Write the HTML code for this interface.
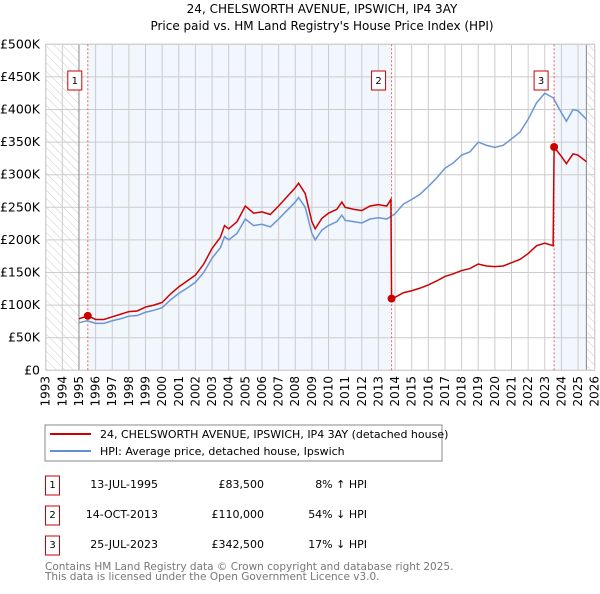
<!DOCTYPE html>
<html><head><meta charset="utf-8"><style>
body{margin:0;background:#fff;width:600px;height:590px;overflow:hidden;font-family:"DejaVu Sans","Liberation Sans",sans-serif}
svg text{font-family:"DejaVu Sans","Liberation Sans",sans-serif}
</style></head><body>
<svg id="c" width="600" height="590" xmlns="http://www.w3.org/2000/svg">
<defs><pattern id="hatch" width="6" height="6" patternUnits="userSpaceOnUse" patternTransform="rotate(-45)"><line x1="0" y1="0" x2="0" y2="6" stroke="#ccc" stroke-width="1"/></pattern></defs>
<text x="322" y="13" font-size="12" text-anchor="middle">24, CHELSWORTH AVENUE, IPSWICH, IP4 3AY</text>
<text x="322" y="30" font-size="12" text-anchor="middle">Price paid vs. HM Land Registry's House Price Index (HPI)</text>
<g id="plot"></g>
<rect x="45" y="425" width="397" height="36" fill="#fff" stroke="#888"/>
<line x1="50" y1="434" x2="91" y2="434" stroke="#cc0000" stroke-width="2"/>
<text x="100" y="438" font-size="11">24, CHELSWORTH AVENUE, IPSWICH, IP4 3AY (detached house)</text>
<line x1="50" y1="451" x2="91" y2="451" stroke="#6090d0" stroke-width="2"/>
<text x="100" y="455" font-size="11">HPI: Average price, detached house, Ipswich</text>
<g font-size="11">
<rect x="45.5" y="476" width="14" height="19" fill="none" stroke="#cc0000"/><text x="52.5" y="488" text-anchor="middle" font-size="10">1</text>
<text x="158" y="488" text-anchor="end">13-JUL-1995</text>
<text x="264" y="488" text-anchor="end">£83,500</text>
<text x="367" y="488" text-anchor="end">8% ↑ HPI</text>
<rect x="45.5" y="506" width="14" height="19" fill="none" stroke="#cc0000"/><text x="52.5" y="518" text-anchor="middle" font-size="10">2</text>
<text x="158" y="518" text-anchor="end">14-OCT-2013</text>
<text x="264" y="518" text-anchor="end">£110,000</text>
<text x="367" y="518" text-anchor="end">54% ↓ HPI</text>
<rect x="45.5" y="536" width="14" height="19" fill="none" stroke="#cc0000"/><text x="52.5" y="548" text-anchor="middle" font-size="10">3</text>
<text x="158" y="548" text-anchor="end">25-JUL-2023</text>
<text x="264" y="548" text-anchor="end">£342,500</text>
<text x="367" y="548" text-anchor="end">17% ↓ HPI</text>
</g>
<text x="45" y="570" font-size="10.5" fill="#777">Contains HM Land Registry data © Crown copyright and database right 2025.</text>
<text x="45" y="580" font-size="10.5" fill="#777">This data is licensed under the Open Government Licence v3.0.</text>
</svg>
<script>
const yTicks=[0,50,100,150,200,250,300,350,400,450,500];
const yTickLabels=["£0","£50K","£100K","£150K","£200K","£250K","£300K","£350K","£400K","£450K","£500K"];
const years=[1993,1994,1995,1996,1997,1998,1999,2000,2001,2002,2003,2004,2005,2006,2007,2008,2009,2010,2011,2012,2013,2014,2015,2016,2017,2018,2019,2020,2021,2022,2023,2024,2025,2026];
const hpiDates=[1995.0,1995.5,1996,1996.5,1997,1997.5,1998,1998.5,1999,1999.5,2000,2000.5,2001,2001.5,2002,2002.5,2003,2003.5,2003.75,2004,2004.5,2005,2005.5,2006,2006.5,2007,2007.5,2008,2008.2,2008.6,2009,2009.2,2009.6,2010,2010.5,2010.8,2011,2011.5,2012,2012.5,2013,2013.5,2014,2014.5,2015,2015.5,2016,2016.5,2017,2017.5,2018,2018.5,2019,2019.5,2020,2020.5,2021,2021.5,2022,2022.5,2023,2023.5,2024,2024.3,2024.7,2025,2025.5];
const hpiValues=[73,76,72,72,76,79,83,84,89,92,96,108,118,126,135,150,172,188,205,200,210,232,222,224,220,232,245,258,265,250,210,200,215,222,228,238,230,228,226,232,234,232,240,255,262,270,282,295,310,318,330,335,350,345,342,345,355,365,385,410,425,418,395,382,400,398,385];
const propDates=[1995.0,1995.53,1996,1996.5,1997,1997.5,1998,1998.5,1999,1999.5,2000,2000.5,2001,2001.5,2002,2002.5,2003,2003.5,2003.75,2004,2004.5,2005,2005.5,2006,2006.5,2007,2007.5,2008,2008.2,2008.6,2009,2009.2,2009.6,2010,2010.5,2010.8,2011,2011.5,2012,2012.5,2013,2013.5,2013.75,2013.79,2014,2014.5,2015,2015.5,2016,2016.5,2017,2017.5,2018,2018.5,2019,2019.5,2020,2020.5,2021,2021.5,2022,2022.5,2023,2023.5,2023.56,2024,2024.3,2024.7,2025,2025.5];
const propValues=[79,83.5,78,78,82,86,90,91,97,100,104,117,128,137,146,163,187,204,222,217,228,252,241,243,239,252,266,280,287,271,228,217,233,241,247,258,250,247,245,252,254,252,262,110,112,119,122,126,131,137,144,148,153,156,163,160,159,160,165,170,179,191,195,191,342.5,328,317,332,330,320];
const saleDates=[1995.53,2013.79,2023.56];
const salePrices=[83.5,110,342.5];
const saleLabels=["1","2","3"];

const X0=45.7,X1=594.7,Y0=370.3,Y1=44.3;
const xs=t=>X0+(t-1993)/(2026-1993)*(X1-X0);
const ys=v=>Y0-v/500*(Y0-Y1);
const NS="http://www.w3.org/2000/svg";
const g=document.getElementById('plot');
function mk(tag,attrs){const e=document.createElementNS(NS,tag);for(const k in attrs)e.setAttribute(k,attrs[k]);g.appendChild(e);return e;}
let e;
e=mk('rect',{x:X0,y:Y1,width:X1-X0,height:Y0-Y1,fill:'#fff'});


e=mk('rect',{x:xs(saleDates[0]),y:Y1,width:xs(saleDates[1])-xs(saleDates[0]),height:Y0-Y1,fill:'#f2f6fd'});


e=mk('rect',{x:xs(saleDates[2]),y:Y1,width:xs(2025.5)-xs(saleDates[2]),height:Y0-Y1,fill:'#f2f6fd'});


e=mk('rect',{x:X0,y:Y1,width:xs(1995)-X0,height:Y0-Y1,fill:'url(#hatch)'});


e=mk('rect',{x:xs(2025.5),y:Y1,width:X1-xs(2025.5),height:Y0-Y1,fill:'url(#hatch)'});


yTicks.forEach((v,i)=>{
 e=mk('line',{x1:X0,x2:X1,y1:ys(v),y2:ys(v),stroke:'#ccc','stroke-width':1});
 
 
 e=mk('text',{x:40,y:ys(v)+4,'font-size':12.5,'text-anchor':'end'});e.textContent=yTickLabels[i];
 
 
});
years.forEach(y=>{
 e=mk('line',{x1:xs(y),x2:xs(y),y1:Y1,y2:Y0,stroke:'#ccc','stroke-width':1});
 
 
 e=mk('text',{x:0,y:0,'font-size':12,'text-anchor':'end',transform:`translate(${xs(y)+4},376) rotate(-90)`});e.textContent=y;
 
 
});
[1995,2025.5].forEach(t=>{
 e=mk('line',{x1:xs(t),x2:xs(t),y1:Y1,y2:Y0,stroke:'#888','stroke-width':1});
 
 
});
e=mk('rect',{x:X0,y:Y1,width:X1-X0,height:Y0-Y1,fill:'none',stroke:'#ccc'});


saleDates.forEach((d,i)=>{
 e=mk('line',{x1:xs(d),x2:xs(d),y1:Y1,y2:Y0,stroke:'#f06060','stroke-width':1,'stroke-dasharray':'2,2'});
 
 
});
e=mk('polyline',{points:hpiDates.map((d,i)=>xs(d)+','+ys(hpiValues[i])).join(' '),fill:'none',stroke:'#6a96d4','stroke-width':1.5});


e=mk('polyline',{points:propDates.map((d,i)=>xs(d)+','+ys(propValues[i])).join(' '),fill:'none',stroke:'#cc0000','stroke-width':1.5});


saleDates.forEach((d,i)=>{
 e=mk('circle',{cx:xs(d),cy:ys(salePrices[i]),r:4,fill:'#cc0000'});
 
 
 e=mk('rect',{x:xs(d)-20,y:71,width:14,height:19,fill:'#fff',stroke:'#cc0000'});
 
 
 e=mk('text',{x:xs(d)-13,y:84,'font-size':10,'text-anchor':'middle'});e.textContent=saleLabels[i];
 
 
});
</script>
</body></html>
